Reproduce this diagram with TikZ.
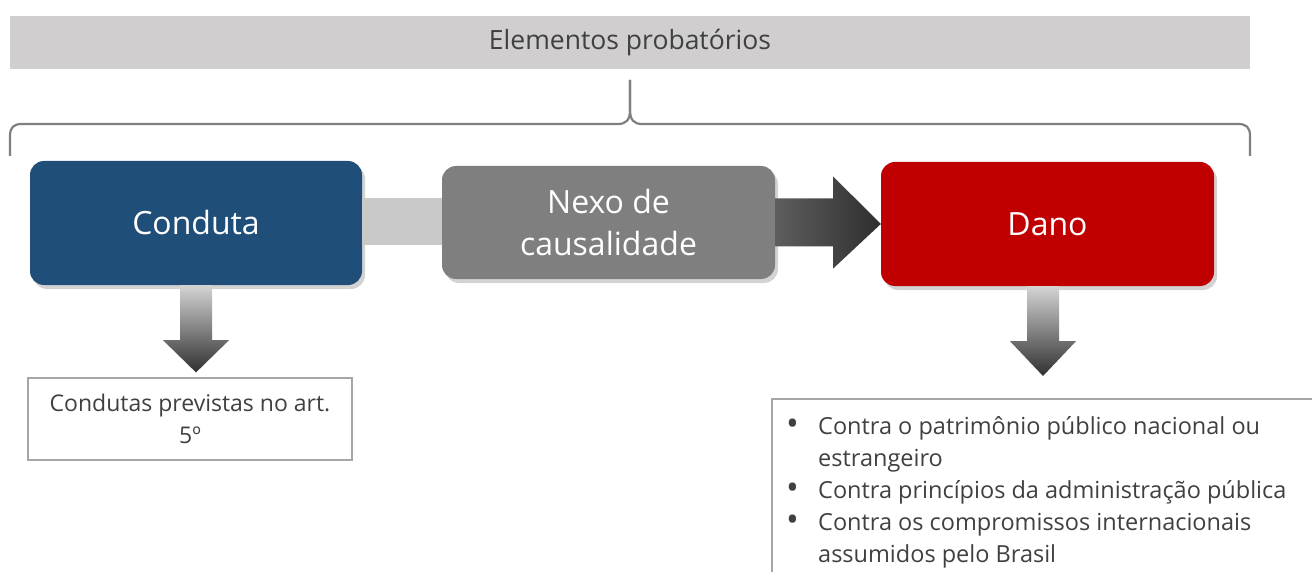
\documentclass[tikz,border=0pt]{standalone}
\usepackage{fontspec}
\setmainfont{Open Sans}
\usetikzlibrary{shadows,calc}
\definecolor{barGray}{HTML}{D0CECF}
\definecolor{condBlue}{HTML}{1F4E79}
\definecolor{nexoGray}{HTML}{7F7F7F}
\definecolor{danoRed}{HTML}{C00000}
\definecolor{bandGray}{HTML}{C9C9C9}
\definecolor{braceGray}{HTML}{7F7F7F}
\definecolor{txtGray}{HTML}{404040}
\definecolor{frameGray}{HTML}{A6A6A6}
\definecolor{arrLight}{HTML}{D4D4D4}
\definecolor{arrDark}{HTML}{303030}
\definecolor{harrLeft}{HTML}{5E5E5E}
\definecolor{harrRight}{HTML}{2E2E2E}
\newcommand{\bigbul}{\makebox[32pt][l]{\raisebox{-1pt}{\fontsize{34}{32}\selectfont •}}}
\begin{document}
\begin{tikzpicture}[x=1pt,y=-1pt,
  bigbox/.style={rounded corners=14pt, text=white, align=center, inner sep=0pt,
    font=\fontsize{32}{42}\selectfont,
    drop shadow={opacity=0.35, shadow xshift=3pt, shadow yshift=-4pt}},
  framebox/.style={draw=frameGray, line width=1.2pt, fill=white},
  graytext/.style={text=txtGray, font=\fontsize{23.5}{32}\selectfont}
]
\useasboundingbox (0,0) rectangle (1312,572);

% top bar
\node[fill=barGray, minimum width=1240pt, minimum height=53pt, inner sep=0pt,
      text=txtGray, font=\fontsize{26.5}{30}\selectfont] (top) at (630,42.5) {Elementos probatórios};

% brace
\coordinate (bl) at (10,156);
\coordinate (br) at (1250,156);
\coordinate (bt) at (630,80);
\draw[braceGray, line width=2.2pt]
  (bl) -- (10,136) .. controls (10,127) and (14,124) .. (22,124) -- (618,124)
  .. controls (626,124) and (630,120) .. (630,110) -- (bt);
\draw[braceGray, line width=2.2pt]
  (br) -- (1250,136) .. controls (1250,127) and (1246,124) .. (1238,124) -- (642,124)
  .. controls (634,124) and (630,120) .. (630,110) -- (bt);

% main boxes
\node[bigbox, fill=condBlue, minimum width=332pt, minimum height=124pt] (conduta) at (196,223) {Conduta};
\node[bigbox, fill=nexoGray, minimum width=333pt, minimum height=113pt] (nexo) at (608.5,222.5) {Nexo de\\causalidade};
\node[bigbox, fill=danoRed, minimum width=333pt, minimum height=124pt] (dano) at (1047.5,224) {Dano};

% band between Conduta and Nexo
\fill[bandGray] ($(conduta.east)+(0,-25)$) rectangle ($(nexo.west)+(0,23)$);

% arrow Nexo -> Dano
\shade[left color=harrLeft, right color=harrRight]
  ($(nexo.east)+(0,-24)$) -- ($(nexo.east)+(58,-24)$) -- ($(nexo.east)+(58,-46)$)
  -- (dano.west) -- ($(nexo.east)+(58,46)$) -- ($(nexo.east)+(58,24)$)
  -- ($(nexo.east)+(0,24)$) -- cycle;

% lower text boxes
\node[framebox, text=txtGray, font=\fontsize{23}{32}\selectfont, align=center,
      minimum width=324pt, minimum height=82pt, inner sep=0pt]
  (cond5) at (190,419) {Condutas previstas no art.\\5º};

\draw[framebox] (772,399) rectangle (1330,600);
\node[graytext, anchor=north west, inner sep=0pt, align=left] (danolist) at (786,416)
 {\bigbul Contra o patrimônio público nacional ou\\
  \hspace*{32pt}estrangeiro\\
  \bigbul Contra princípios da administração pública\\
  \bigbul Contra os compromissos internacionais\\
  \hspace*{32pt}assumidos pelo Brasil};

% down arrows
\coordinate (ca) at (conduta.south);
\shade[top color=arrLight, bottom color=arrDark]
  ($(ca)+(-16,0)$) -- ($(ca)+(16,0)$) -- ($(ca)+(16,55)$) -- ($(ca)+(33,55)$)
  -- ($(cond5.north)+(6,-5)$) -- ($(ca)+(-33,55)$) -- ($(ca)+(-16,55)$) -- cycle;

\coordinate (da) at ($(dano.south)+(-4.5,0)$);
\coordinate (dtip) at (1043,376);
\shade[top color=arrLight, bottom color=arrDark]
  ($(da)+(-16,0)$) -- ($(da)+(16,0)$) -- ($(da)+(16,55)$) -- ($(da)+(33,55)$)
  -- (dtip) -- ($(da)+(-33,55)$) -- ($(da)+(-16,55)$) -- cycle;
\end{tikzpicture}
\end{document}
